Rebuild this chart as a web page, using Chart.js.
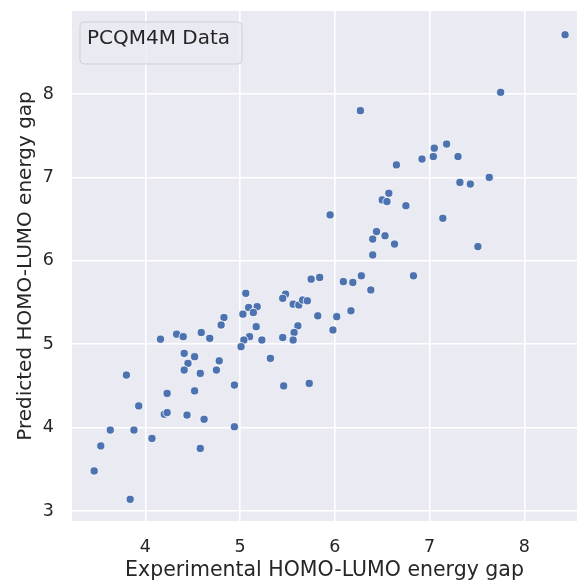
<!DOCTYPE html>
<html>
<head>
<meta charset="utf-8">
<script src="https://cdn.jsdelivr.net/npm/chart.js@4.4.1/dist/chart.umd.min.js"></script>
<style>
  html, body { margin: 0; padding: 0; background: #fff; overflow: hidden; }
  #wrap { width: 577px; height: 581px; }
</style>
</head>
<body>
<div id="wrap"><canvas id="scatterChart" width="577" height="581"></canvas></div>
<script>
// experimental vs predicted HOMO-LUMO gap
var experimental = [
    8.43, 7.75, 6.27, 6.65, 6.92, 7.04, 7.05, 7.18, 7.30, 7.32,
    7.43, 7.63, 6.57, 6.50, 6.55, 6.75, 5.95, 7.14, 6.44, 6.40,
    6.53, 6.63, 7.51, 6.40, 5.84, 5.75, 6.09, 6.19, 6.28, 6.83,
    6.38, 5.82, 6.02, 6.17, 5.98, 5.73, 5.06, 5.48, 5.45, 5.09,
    5.18, 5.03, 5.14, 5.56, 5.62, 5.66, 5.71, 4.83, 4.80, 5.17,
    5.61, 5.57, 4.33, 4.40, 4.59, 4.68, 4.16, 5.10, 5.04, 5.01,
    5.23, 5.45, 5.56, 4.41, 4.52, 4.45, 4.41, 4.78, 4.75, 4.58,
    5.32, 4.94, 5.46, 4.23, 4.52, 3.93, 3.80, 4.20, 4.23, 4.44,
    4.62, 3.63, 3.88, 4.07, 4.94, 3.53, 4.58, 3.46, 3.84
];
var predicted = [
    8.71, 8.02, 7.80, 7.15, 7.22, 7.25, 7.35, 7.40, 7.25, 6.94,
    6.92, 7.00, 6.81, 6.73, 6.71, 6.66, 6.55, 6.51, 6.35, 6.26,
    6.30, 6.20, 6.17, 6.07, 5.80, 5.78, 5.75, 5.74, 5.82, 5.82,
    5.65, 5.34, 5.33, 5.40, 5.17, 4.53, 5.61, 5.60, 5.55, 5.44,
    5.45, 5.36, 5.38, 5.48, 5.47, 5.53, 5.52, 5.32, 5.23, 5.21,
    5.22, 5.14, 5.12, 5.09, 5.14, 5.07, 5.06, 5.09, 5.05, 4.97,
    5.05, 5.08, 5.05, 4.89, 4.85, 4.77, 4.69, 4.80, 4.69, 4.65,
    4.83, 4.51, 4.50, 4.41, 4.44, 4.26, 4.63, 4.16, 4.18, 4.15,
    4.10, 3.97, 3.97, 3.87, 4.01, 3.78, 3.75, 3.48, 3.14
];
var xTicks = [4, 5, 6, 7, 8];
var yTicks = [3, 4, 5, 6, 7, 8];
var legendLabel = 'PCQM4M Data';

var FONT = "'DejaVu Sans', 'Liberation Sans', sans-serif";
var TEXT = '#262626';

// grey seaborn-style panel behind the plot
var panelBg = {
    id: 'panelBg',
    beforeDraw: function (chart) {
        var a = chart.chartArea, ctx = chart.ctx;
        ctx.save();
        ctx.fillStyle = '#EAEAF2';
        ctx.fillRect(a.left, a.top, a.right - a.left, a.bottom - a.top);
        ctx.restore();
    }
};

// framed legend box in the upper left corner
var legendBox = {
    id: 'legendBox',
    afterDraw: function (chart) {
        var a = chart.chartArea, ctx = chart.ctx;
        var x = a.left + 8, y = a.top + 11, w = 162, h = 42, r = 4;
        ctx.save();
        ctx.beginPath();
        ctx.roundRect(x, y, w, h, r);
        ctx.fillStyle = 'rgba(234, 234, 242, 0.8)';
        ctx.fill();
        ctx.lineWidth = 1;
        ctx.strokeStyle = '#cfcfd6';
        ctx.stroke();
        ctx.fillStyle = TEXT;
        ctx.font = '20px ' + FONT;
        ctx.textBaseline = 'alphabetic';
        ctx.fillText(legendLabel, x + 7, y + 21.5);
        ctx.restore();
    }
};

// pin the axis boxes so the plot area matches the original figure
function noPad(s) {
    s.paddingTop = 0;
    s.paddingBottom = 0;
    s.paddingLeft = 0;
    s.paddingRight = 0;
}

var points = experimental.map(function (v, i) {
    return { x: v, y: predicted[i] };
});

new Chart(document.getElementById('scatterChart'), {
    type: 'scatter',
    data: {
        datasets: [{
            label: legendLabel,
            data: points,
            backgroundColor: '#4C72B0',
            borderColor: '#ffffff',
            borderWidth: 0.8,
            pointRadius: 4.1
        }]
    },
    options: {
        responsive: false,
        animation: false,
        layout: { autoPadding: false, padding: { top: 11, right: 0, bottom: 0, left: 0 } },
        plugins: {
            legend: { display: false },
            tooltip: { enabled: false }
        },
        scales: {
            x: {
                type: 'linear',
                min: 3.226,
                max: 8.556,
                afterFit: function (s) { s.height = 60; noPad(s); },
                afterBuildTicks: function (s) { s.ticks = xTicks.map(function (v) { return { value: v }; }); },
                grid: { color: '#ffffff', lineWidth: 1.6, drawTicks: false },
                border: { display: false },
                ticks: { color: TEXT, padding: 15.5, font: { family: FONT, size: 17.5 } },
                title: {
                    display: true,
                    text: 'Experimental HOMO-LUMO energy gap',
                    color: TEXT,
                    padding: 0,
                    font: { family: FONT, size: 20.5, lineHeight: 1 }
                }
            },
            y: {
                type: 'linear',
                min: 2.880,
                max: 8.995,
                afterFit: function (s) { s.width = 72; noPad(s); },
                afterBuildTicks: function (s) { s.ticks = yTicks.map(function (v) { return { value: v }; }); },
                grid: { color: '#ffffff', lineWidth: 1.6, drawTicks: false },
                border: { display: false },
                ticks: { color: TEXT, padding: 18, font: { family: FONT, size: 17.5 } },
                title: {
                    display: true,
                    text: 'Predicted HOMO-LUMO energy gap',
                    color: TEXT,
                    padding: { top: 16, bottom: 0 },
                    font: { family: FONT, size: 20, lineHeight: 1 }
                }
            }
        }
    },
    plugins: [panelBg, legendBox]
});
</script>
</body>
</html>
